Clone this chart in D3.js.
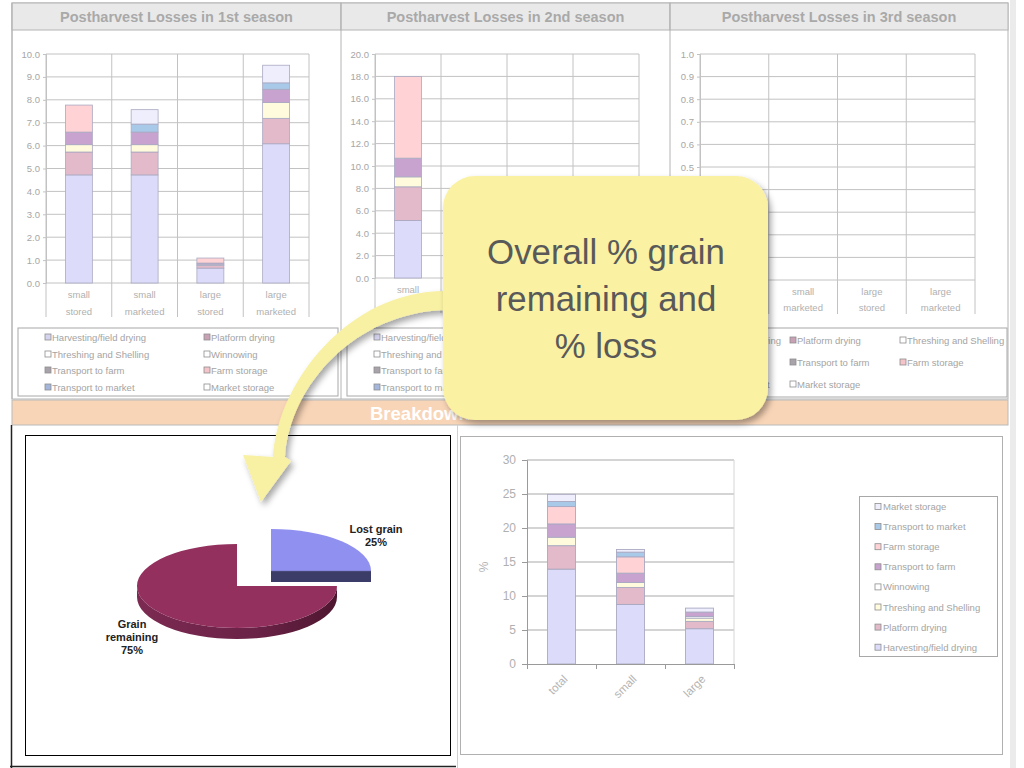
<!DOCTYPE html>
<html><head><meta charset="utf-8">
<script src="https://cdn.jsdelivr.net/npm/d3@7"></script>
<style>
body{margin:0;background:#fff;}
svg{display:block;}
text{font-family:"Liberation Sans",Arial,sans-serif;}
</style>
</head><body>
<svg id="c" width="1024" height="768"></svg>
<script>
// ---------------- DATA ----------------
const stages = ["Harvesting/field drying","Platform drying","Threshing and Shelling","Winnowing",
  "Transport to farm","Farm storage","Transport to market","Market storage"];
const stageColors = ["#dcdcfa","#e2bac9","#fffbdc","#ffffff","#c8a3d0","#ffd3d5","#a9c9e8","#eeeefc"];
const legendMarkerColors = ["#d4d4f0","#c8a2b4","#ffffff","#ffffff","#a8a2aa","#f4c4ca","#a4b6dc","#ffffff"];
const seasonTitles = ["Postharvest Losses in 1st season","Postharvest Losses in 2nd season","Postharvest Losses in 3rd season"];
const seasonCategories = [["small","stored"],["small","marketed"],["large","stored"],["large","marketed"]];
const seasonMax = [10, 20, 1];
// values per category, in stage order
const season1Losses = [
  [4.72,1.00,0.32,0,0.55,1.18,0,0],
  [4.72,1.00,0.32,0,0.55,0,0.35,0.63],
  [0.65,0.12,0.05,0,0.05,0.22,0,0],
  [6.08,1.11,0.69,0,0.58,0,0.28,0.77]
];
const season2Losses = [
  [5.13,3.01,0.89,0,1.67,7.30,0,0],
  [0,0,0,0,0,0,0,0],
  [0,0,0,0,0,0,0,0],
  [0,0,0,0,0,0,0,0]
];
const season3Losses = [
  [0,0,0,0,0,0,0,0],
  [0,0,0,0,0,0,0,0],
  [0,0,0,0,0,0,0,0],
  [0,0,0,0,0,0,0,0]
];
const bannerText = "Breakdown of Postharvest Losses";
const pieLabels = [["Lost grain","25%"],["Grain","remaining","75%"]];
const pieValues = [25, 75];
const breakdownCategories = ["total","small","large"];
const breakdownLosses = [
  [13.95,3.45,1.25,0,1.95,2.55,0.75,1.05],
  [8.76,2.50,0.73,0,1.37,2.40,0.69,0.39],
  [5.19,1.08,0.48,0.25,0.64,0,0,0.58]
];
const breakdownTicks = [0,5,10,15,20,25,30];
const breakdownYLabel = "%";
const calloutLines = ["Overall % grain","remaining and","% loss"];

// ---------------- LAYOUT ----------------
const svg = d3.select("#c");
const defs = svg.append("defs");
const sh = defs.append("filter").attr("id","shadow").attr("x","-20%").attr("y","-20%").attr("width","150%").attr("height","150%");
sh.append("feDropShadow").attr("dx",3).attr("dy",4).attr("stdDeviation",3).attr("flood-color","#000").attr("flood-opacity",0.35);
const grad = defs.append("linearGradient").attr("id","wall").attr("x1","0").attr("x2","1").attr("y1","0").attr("y2","0");
grad.append("stop").attr("offset","0").attr("stop-color","#7c2a52");
grad.append("stop").attr("offset","0.6").attr("stop-color","#6a2246");
grad.append("stop").attr("offset","1").attr("stop-color","#4e1630");

const callout = {x:443, y:176, w:325, h:244};

// right strip
svg.append("rect").attr("x",1010).attr("y",0).attr("width",6).attr("height",768).attr("fill","#ebebeb");

const panels = [
  {left:12,right:341,x0:46,x1:309,yTop:54,yBot:283,catBottom:317,labelRight:40,cat1:294,cat2:311,
   legend:{x:18,y:328,w:320,h:68,cols:[48,207],rows:[337,354,370,387]}},
  {left:341,right:670,x0:375,x1:639,yTop:54,yBot:278,catBottom:313,labelRight:369,cat1:289,cat2:305,
   legend:{x:347,y:328,w:319,h:68,cols:[377,536],rows:[337,354,370,387]}},
  {left:670,right:1008,x0:700,x1:975,yTop:54,yBot:280,catBottom:314,labelRight:693,cat1:291,cat2:307,
   legend:{x:676,y:328,w:331,h:69,cols:[683,793,903],rows:[340,362,384]}}
];
const seasonData = [season1Losses, season2Losses, season3Losses];

const gridCol = "#c2c2c2", txtCol = "#a6a6a6";

// outer frame
svg.append("rect").attr("x",12).attr("y",3).attr("width",996).attr("height",396).attr("fill","#fff").attr("stroke","#b4b4b4");

const under = svg.append("g").attr("class","under");

panels.forEach((p,pi)=>{
  const g = under.append("g");
  g.append("rect").attr("x",p.left).attr("y",3).attr("width",p.right-p.left).attr("height",27)
    .attr("fill","#e9e9e9").attr("stroke","#b4b4b4");
  g.append("line").attr("x1",p.left).attr("x2",p.left).attr("y1",3).attr("y2",399).attr("stroke","#b4b4b4");
  g.append("text").attr("x",(p.left+p.right)/2).attr("y",22).attr("text-anchor","middle")
    .attr("font-size",14.5).attr("font-weight","bold").attr("fill","#a9a9a9").text(seasonTitles[pi]);

  const y = d3.scaleLinear().domain([0,seasonMax[pi]]).range([p.yBot,p.yTop]);
  const x = d3.scaleBand().domain(d3.range(seasonCategories.length)).range([p.x0,p.x1]);
  const ticks = y.ticks(10);
  g.append("g").selectAll("line").data(ticks).join("line")
    .attr("x1",p.x0).attr("x2",p.x1).attr("y1",d=>y(d)).attr("y2",d=>y(d))
    .attr("stroke",gridCol).attr("stroke-width",1);
  const bounds = d3.range(seasonCategories.length+1).map(i=> i<seasonCategories.length ? x(i) : p.x1);
  g.append("g").selectAll("line").data(bounds).join("line")
    .attr("x1",d=>d).attr("x2",d=>d).attr("y1",p.yTop).attr("y2",p.catBottom)
    .attr("stroke",gridCol);
  const ax = g.append("g").attr("transform",`translate(${p.x0},0)`)
    .call(d3.axisLeft(y).ticks(10).tickFormat(d3.format(".1f")).tickSize(3).tickPadding(3));
  ax.select(".domain").attr("stroke",gridCol);
  ax.selectAll(".tick line").attr("stroke",gridCol);
  ax.selectAll(".tick text").attr("fill",txtCol).attr("font-size",9.5)
    .attr("font-family","'Liberation Sans',Arial,sans-serif");
  const rows = seasonData[pi].map((v,ci)=>{const o={cat:ci}; stages.forEach((s,si)=>o[s]=v[si]); return o;});
  const series = d3.stack().keys(stages)(rows);
  const bw = x.bandwidth()*0.41;
  series.forEach((s,si)=>{
    g.append("g").selectAll("rect").data(s.filter(d=>d[1]-d[0]>0)).join("rect")
      .attr("x",d=>x(d.data.cat)+(x.bandwidth()-bw)/2).attr("width",bw)
      .attr("y",d=>y(d[1])).attr("height",d=>y(d[0])-y(d[1]))
      .attr("fill",stageColors[si]).attr("stroke","#a9a9c2").attr("stroke-width",0.8);
  });
  seasonCategories.forEach((c,ci)=>{
    const cx = x(ci)+x.bandwidth()/2;
    g.append("text").attr("x",cx).attr("y",p.cat1).attr("text-anchor","middle").attr("dominant-baseline","central")
      .attr("font-size",9.5).attr("fill","#b0b0b0").text(c[0]);
    g.append("text").attr("x",cx).attr("y",p.cat2).attr("text-anchor","middle").attr("dominant-baseline","central")
      .attr("font-size",9.5).attr("fill","#b0b0b0").text(c[1]);
  });
  const L = p.legend;
  g.append("rect").attr("x",L.x).attr("y",L.y).attr("width",L.w).attr("height",L.h)
    .attr("fill","#fff").attr("stroke","#a8a8a8");
  stages.forEach((s,si)=>{
    const col = si % L.cols.length, row = Math.floor(si / L.cols.length);
    const lx = L.cols[col], ly = L.rows[row];
    g.append("rect").attr("x",lx-3).attr("y",ly-3).attr("width",6).attr("height",6)
      .attr("fill",legendMarkerColors[si]).attr("stroke","#8e8e8e").attr("stroke-width",0.8);
    g.append("text").attr("x",lx+4).attr("y",ly).attr("dominant-baseline","central")
      .attr("font-size",9.5).attr("fill","#a4a4a4").text(s);
  });
});

// banner
under.append("rect").attr("x",12).attr("y",400).attr("width",996).attr("height",25).attr("fill","#f9d5b7").attr("stroke","#b9b9b9");
under.append("text").attr("x",370).attr("y",420).attr("font-size",18.5).attr("font-weight","bold").attr("fill","#fff").text(bannerText);

// texts completely covered by the callout are not rendered (they are invisible in the reference)
const svgRect = svg.node().getBoundingClientRect();
under.selectAll("text").each(function(){
  const b = this.getBoundingClientRect();
  const x = b.left - svgRect.left, y = b.top - svgRect.top;
  if (x >= callout.x && x+b.width <= callout.x+callout.w && y >= callout.y && y+b.height <= callout.y+callout.h)
    d3.select(this).remove();
});

// bottom-left frame lines
svg.append("line").attr("x1",11.5).attr("x2",11.5).attr("y1",425).attr("y2",768).attr("stroke","#222").attr("stroke-width",1.5);
svg.append("line").attr("x1",10).attr("x2",456).attr("y1",766.5).attr("y2",766.5).attr("stroke","#222").attr("stroke-width",1.5);
svg.append("line").attr("x1",457.5).attr("x2",457.5).attr("y1",425).attr("y2",768).attr("stroke","#d0d0d0");

// ---------------- PIE ----------------
svg.append("rect").attr("x",25.5).attr("y",435.5).attr("width",425).attr("height",320).attr("fill","#fff").attr("stroke","#000");
const arcs = d3.pie().sort(null).value(d=>d)(pieValues);
const rx = 100, ry = 42, depth = 11;
const centers = [[271,571],[237,586]];
const pt = (a,c,dy=0)=>[c[0]+rx*Math.sin(a), c[1]-ry*Math.cos(a)+dy];
function topFace(a0,a1,c){
  const p0=pt(a0,c), p1=pt(a1,c), large = (a1-a0)>Math.PI?1:0;
  return `M${c[0]},${c[1]}L${p0}A${rx},${ry} 0 ${large} 1 ${p1}Z`;
}
{
  const a = arcs[1], c = centers[1];
  const w0 = Math.max(a.startAngle, Math.PI/2), w1 = Math.min(a.endAngle, 3*Math.PI/2);
  const p0=pt(w0,c), p1=pt(w1,c), q1=pt(w1,c,depth), q0=pt(w0,c,depth);
  svg.append("path").attr("d",`M${p0}A${rx},${ry} 0 0 1 ${p1}L${q1}A${rx},${ry} 0 0 0 ${q0}Z`)
    .attr("fill","url(#wall)");
  svg.append("path").attr("d",topFace(a.startAngle,a.endAngle,c)).attr("fill","#93305d");
}
{
  const a = arcs[0], c = centers[0];
  const e = pt(a.endAngle,c);
  svg.append("path").attr("d",`M${c}L${e}L${[e[0],e[1]+depth]}L${[c[0],c[1]+depth]}Z`).attr("fill","#3c3c68");
  svg.append("path").attr("d",topFace(a.startAngle,a.endAngle,c)).attr("fill","#9090f0");
  svg.append("path").attr("d",`M${c}L${[e[0],e[1]]}`).attr("stroke","#6a6aa8").attr("stroke-width",0.5);
}
const pieLabelPos = [[376,529],[132,624]];
pieLabels.forEach((lines,i)=>{
  lines.forEach((t,j)=>{
    svg.append("text").attr("x",pieLabelPos[i][0]).attr("y",pieLabelPos[i][1]+j*13)
      .attr("text-anchor","middle").attr("dominant-baseline","central")
      .attr("font-size",11).attr("font-weight","bold").attr("fill","#222").text(t);
  });
});

// ---------------- BREAKDOWN CHART ----------------
svg.append("rect").attr("x",460.5).attr("y",436.5).attr("width",542).attr("height",318).attr("fill","#fff").attr("stroke","#b0b0b0");
{
  const X0=527, X1=734, Y0=664, Y1=460;
  const y = d3.scaleLinear().domain([0,30]).range([Y0,Y1]);
  const x = d3.scaleBand().domain(breakdownCategories).range([X0,X1]);
  const g = svg.append("g");
  g.append("g").selectAll("line").data(breakdownTicks.filter(d=>d>0)).join("line")
    .attr("x1",X0).attr("x2",X1).attr("y1",d=>y(d)).attr("y2",d=>y(d)).attr("stroke","#c6c6c6").attr("stroke-width",1.5);
  g.append("line").attr("x1",X1).attr("x2",X1).attr("y1",Y1).attr("y2",Y0).attr("stroke","#d6d6d6");
  const rows = breakdownLosses.map((v,ci)=>{const o={cat:breakdownCategories[ci]}; stages.forEach((s,si)=>o[s]=v[si]); return o;});
  const series = d3.stack().keys(stages)(rows);
  const bw = 28;
  series.forEach((s,si)=>{
    g.append("g").selectAll("rect").data(s.filter(d=>d[1]-d[0]>0)).join("rect")
      .attr("x",d=>x(d.data.cat)+(x.bandwidth()-bw)/2).attr("width",bw)
      .attr("y",d=>y(d[1])).attr("height",d=>y(d[0])-y(d[1]))
      .attr("fill",stageColors[si]).attr("stroke","#a9a9c2").attr("stroke-width",0.9);
  });
  const ay = g.append("g").attr("transform",`translate(${X0},0)`)
    .call(d3.axisLeft(y).tickValues(breakdownTicks).tickSize(5).tickPadding(6));
  ay.select(".domain").attr("stroke","#9a9a9a");
  ay.selectAll(".tick line").attr("stroke","#9a9a9a");
  ay.selectAll(".tick text").attr("fill","#b0b0b0").attr("font-size",12).attr("font-family","'Liberation Sans',Arial,sans-serif");
  const xl = d3.scaleLinear().domain([0,breakdownCategories.length]).range([X0,X1]);
  const axb = g.append("g").attr("transform",`translate(0,${Y0})`)
    .call(d3.axisBottom(xl).tickValues(d3.range(breakdownCategories.length+1)).tickFormat("").tickSize(5));
  axb.select(".domain").attr("stroke","#9a9a9a");
  axb.selectAll(".tick line").attr("stroke","#9a9a9a");
  breakdownCategories.forEach(c=>{
    const cx = x(c)+x.bandwidth()/2+4;
    g.append("text").attr("transform",`translate(${cx},${Y0+13}) rotate(-45)`)
      .attr("text-anchor","end").attr("dominant-baseline","central")
      .attr("font-size",11.5).attr("fill","#b4b4b4").text(c);
  });
  g.append("text").attr("transform",`translate(484,567) rotate(-90)`).attr("text-anchor","middle")
    .attr("dominant-baseline","central").attr("font-size",12).attr("fill","#b4b4b4").text(breakdownYLabel);
  g.append("rect").attr("x",859.5).attr("y",496.5).attr("width",138).attr("height",160).attr("fill","#fff").attr("stroke","#a8a8a8");
  const rev = stages.map((s,i)=>i).reverse();
  rev.forEach((si,k)=>{
    const ly = 506.5 + k*20.1;
    g.append("rect").attr("x",875).attr("y",ly-3).attr("width",6).attr("height",6)
      .attr("fill",stageColors[si]).attr("stroke","#8e8e8e").attr("stroke-width",0.8);
    g.append("text").attr("x",883).attr("y",ly).attr("dominant-baseline","central")
      .attr("font-size",9.5).attr("fill","#a4a4a4").text(stages[si]);
  });
}

// ---------------- ARROW + CALLOUT ----------------
svg.append("path")
  .attr("d","M445,291 C350,291 278,380 273,457 L243,455 L261,502 L291,461 L285,457 C290,385 355,313 445,310 Z")
  .attr("fill","#f8f0a2").attr("filter","url(#shadow)");
svg.append("rect").attr("x",callout.x).attr("y",callout.y).attr("width",callout.w).attr("height",callout.h).attr("rx",32)
  .attr("fill","#faf1a3").attr("filter","url(#shadow)");
const ct = svg.append("g");
calloutLines.forEach((t,i)=>{
  ct.append("text").attr("x",606).attr("y",264+i*47).attr("text-anchor","middle")
    .attr("font-family","Lato,'Open Sans',sans-serif").attr("font-size",36).attr("fill","#595959").text(t);
});
{
  const first = ct.select("text").node();
  const w = first.getComputedTextLength();
  const fs = 36*238/w;
  ct.selectAll("text").attr("font-size",fs);
}
</script>
</body></html>
